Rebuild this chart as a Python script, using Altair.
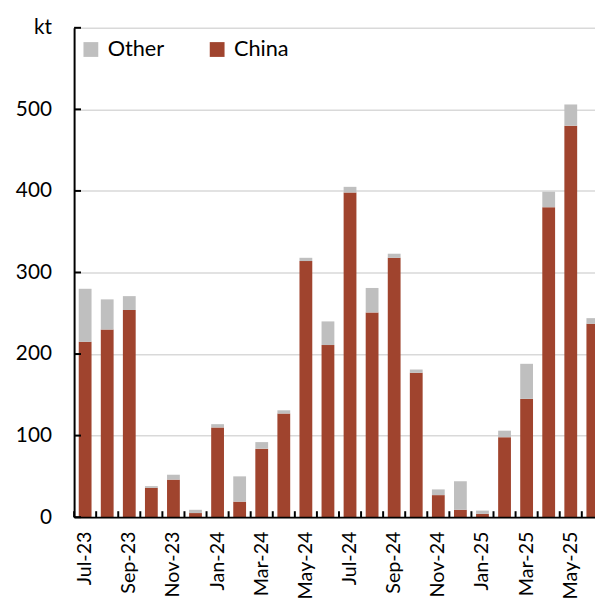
import altair as alt
import pandas as pd

months = ["Jul-23", "Aug-23", "Sep-23", "Oct-23", "Nov-23", "Dec-23",
          "Jan-24", "Feb-24", "Mar-24", "Apr-24", "May-24", "Jun-24",
          "Jul-24", "Aug-24", "Sep-24", "Oct-24", "Nov-24", "Dec-24",
          "Jan-25", "Feb-25", "Mar-25", "Apr-25", "May-25", "Jun-25"]
china = [215, 230, 254, 36, 46, 5, 110, 19, 84, 127, 314, 211,
         398, 251, 318, 177, 27, 9, 4, 98, 145, 380, 480, 237]
other = [65, 37, 17, 2, 6, 4, 4, 31, 8, 4, 4, 29,
         7, 30, 5, 4, 7, 35, 4, 8, 43, 19, 26, 7]
y_ticks = [0, 100, 200, 300, 400, 500, 600]
x_labels = months[::2]
series = ["Other", "China"]
colors = ["#BFBFBF", "#A0442E"]

rows = []
for m, c, o in zip(months, china, other):
    rows.append({"month": m, "series": "China", "value": c, "ord": 0})
    rows.append({"month": m, "series": "Other", "value": o, "ord": 1})
bars_df = pd.DataFrame(rows)
ytick_df = pd.DataFrame({"value": y_ticks})
xtick_df = pd.DataFrame({"month": months})

FONT = "Lato"
FS = 21

x_scale = alt.Scale(domain=months, range=[0, 537], paddingInner=0.42, paddingOuter=0.21)
y_scale = alt.Scale(domain=[0, 600], nice=False, zero=True)

bars = alt.Chart(bars_df).mark_bar().encode(
    x=alt.X("month:N", sort=months, scale=x_scale,
            axis=alt.Axis(values=x_labels, labelAngle=-90, labelPadding=14, ticks=False,
                          domainColor="black", domainWidth=2, labelFont=FONT,
                          labelFontSize=20, labelColor="black", title=None, grid=False,
                          zindex=1)),
    y=alt.Y("value:Q", stack="zero", scale=y_scale,
            axis=alt.Axis(values=y_ticks,
                          labelExpr="datum.value == 600 ? 'kt' : datum.label",
                          ticks=False, domainColor="black", domainWidth=2,
                          grid=True, gridColor="#D9D9D9", gridWidth=1.5,
                          labelPadding=23, labelFont=FONT, labelFontSize=FS,
                          labelColor="black", title=None)),
    color=alt.Color("series:N", scale=alt.Scale(domain=series, range=colors),
                    legend=alt.Legend(orient="none", legendX=6, legendY=11,
                                      direction="horizontal", title=None,
                                      symbolType="square", symbolSize=225,
                                      symbolStrokeWidth=0, labelFont=FONT,
                                      labelFontSize=22, labelColor="black",
                                      labelOffset=6, columnPadding=42, padding=0)),
    order=alt.Order("ord:Q"),
)

yticks = alt.Chart(ytick_df).mark_rule(color="black", strokeWidth=2).encode(
    y=alt.Y("value:Q"),
    x=alt.value(0),
    x2=alt.value(7),
)

xticks = alt.Chart(xtick_df).mark_rule(color="black", strokeWidth=2, xOffset=-4.7).encode(
    x=alt.X("month:N", sort=months, bandPosition=0),
    y=alt.value(496),
    y2=alt.value(490),
)

chart = alt.layer(bars, yticks, xticks).properties(
    width=528,
    height=496,
    autosize=alt.AutoSizeParams(type="none"),
    padding={"left": 67, "top": 16, "right": 0, "bottom": 86},
    background="white",
).configure_view(stroke=None)

chart.save("out.html", embed_options={"renderer": "svg", "actions": False})
